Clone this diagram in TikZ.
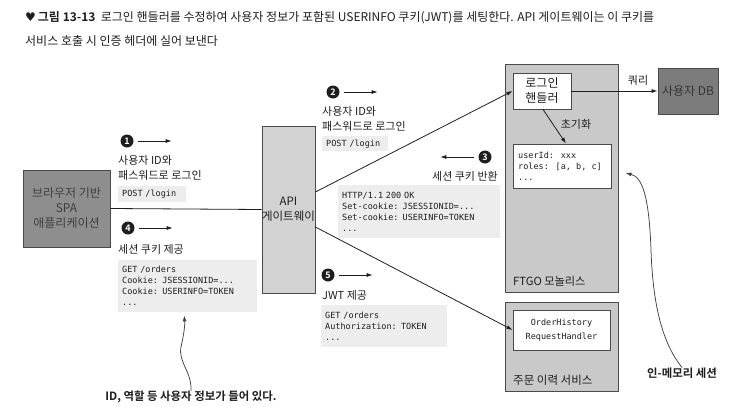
\documentclass[tikz,border=0pt]{standalone}
\usepackage{fontspec}
\setmainfont{Noto Sans CJK KR}[BoldFont={Noto Sans CJK KR Bold}]
\newfontfamily\monof{DejaVu Sans Mono}
\newfontfamily\symf{DejaVu Sans}
\usetikzlibrary{arrows.meta}
\definecolor{spagray}{HTML}{8E8E8E}
\definecolor{dbgray}{HTML}{7C7C7C}
\definecolor{lightbox}{HTML}{D2D2D2}
\definecolor{monobox}{HTML}{C9C9C9}
\definecolor{codebg}{HTML}{EDEDED}
\definecolor{edge}{HTML}{4A4A4A}
\definecolor{ink}{HTML}{1E1E1E}
\tikzset{
  box/.style={draw=edge, line width=0.9pt, inner sep=0pt, align=center, text=ink, font=\fontsize{12}{14}\selectfont},
  whitebox/.style={box, fill=white},
  arr/.style={-{Latex[length=6pt,width=4pt]}, draw=ink, line width=0.8pt},
  plain/.style={draw=ink, line width=0.8pt},
  numc/.style={circle, fill=ink, text=white, inner sep=0pt, minimum size=13pt, font=\bfseries\fontsize{9}{9}\selectfont},
  lbl/.style={inner sep=0pt, text=ink, font=\fontsize{11}{12}\selectfont},
  codebox/.style={fill=codebg, inner xsep=4pt, inner ysep=0pt, anchor=north west, align=left, text=ink, font=\monof\fontsize{8.5}{11}\selectfont},
  code/.style={inner sep=0pt, align=left, text=ink, font=\monof\fontsize{8.5}{11}\selectfont},
  note/.style={inner sep=0pt, text=ink, font=\bfseries\fontsize{11.4}{13}\selectfont},
  curvy/.style={-{Latex[length=6pt,width=4pt]}, draw=ink!85, line width=0.75pt}
}
\begin{document}
\begin{tikzpicture}[x=1pt,y=-1pt]
\useasboundingbox (0,0) rectangle (731,407);
% title
\node[anchor=west, inner sep=0pt, text=ink, font=\fontsize{12}{14}\selectfont] (t1) at (25,18)
  {{\symf ♥}\,\textbf{그림 13-13}\ \ 로그인 핸들러를 수정하여 사용자 정보가 포함된 USERINFO 쿠키(JWT)를 세팅한다. API 게이트웨이는 이 쿠키를};
\node[anchor=west, inner sep=0pt, text=ink, font=\fontsize{12}{14}\selectfont] (t2) at (25,41)
  {서비스 호출 시 인증 헤더에 실어 보낸다};

% main boxes
\node[box, fill=spagray, minimum width=87pt, minimum height=77pt, text=ink!85, font=\fontsize{12}{15}\selectfont] (spa) at (66.5,208.5) {브라우저 기반\\SPA\\애플리케이션};
\node[box, fill=lightbox, minimum width=51pt, minimum height=167pt, font=\fontsize{11.5}{15}\selectfont] (gw) at (288.5,209.5) {API\\게이트웨이};
\node[box, fill=monobox, minimum width=113pt, minimum height=228pt] (mono) at (561.5,178) {};
\node[box, fill=monobox, minimum width=113pt, minimum height=89pt] (svc) at (561.5,346.5) {};
\node[lbl, anchor=west, font=\fontsize{11.2}{12}\selectfont] (monolbl) at (513,281) {FTGO 모놀리스};
\node[lbl, anchor=west, font=\fontsize{11.5}{12}\selectfont] (svclbl) at (513,380) {주문 이력 서비스};
\node[whitebox, minimum width=58pt, minimum height=36pt, font=\fontsize{12}{15}\selectfont] (handler) at (542,91) {로그인\\핸들러};
\node[whitebox, minimum width=98pt, minimum height=44pt] (session) at (562,166) {};
\node[code, anchor=west] (sesstext) at (518,166) {userId: xxx\\roles: [a, b, c]\\...};
\node[whitebox, minimum width=97pt, minimum height=40pt, font=\monof\fontsize{8.5}{13.5}\selectfont] (ohrh) at (561.5,330) {OrderHistory\\RequestHandler};
\node[box, fill=dbgray, minimum width=60pt, minimum height=46pt, text=ink!90] (db) at (688,91) {사용자 DB};

% connectors
\draw[plain] (spa.east) -- (gw.west);
\draw[arr] ([yshift=17.5pt]gw.east) -- (handler.west);
\draw[arr] ([yshift=-17.5pt]gw.east) -- (ohrh.west);
\draw[arr] (handler.east) -- (db.west);
\draw[arr] ([xshift=1pt]handler.south) -- ([xshift=4pt]session.north);
\node[lbl] (query) at (638,80) {쿼리};
\node[lbl] (init) at (576,124) {초기화};

% step 1
\node[numc] (c1) at (127,141) {1};
\draw[arr] ([xshift=4pt]c1.east) -- ++(34,0);
\node[lbl, anchor=west] (l1a) at (118,160) {사용자 ID와};
\node[lbl, anchor=west] (l1b) at (118,175) {패스워드로 로그인};
\node[codebox, text width=60pt, minimum height=16pt] (post1) at (118,186) {POST /login};

% step 2
\node[numc] (c2) at (333,92) {2};
\draw[arr] ([xshift=4pt]c2.east) -- ++(34,0);
\node[lbl, anchor=west] (l2a) at (322,111) {사용자 ID와};
\node[lbl, anchor=west] (l2b) at (322,126) {패스워드로 로그인};
\node[codebox, text width=58pt, minimum height=15pt] (post2) at (322,136) {POST /login};

% step 3
\node[numc] (c3) at (485,157) {3};
\draw[arr] ([xshift=-4pt]c3.west) -- ++(-34,0);
\node[lbl, anchor=east] (l3) at (498,176) {세션 쿠키 반환};
\node[codebox, text width=154pt, minimum height=53pt] (http) at (338,185) {HTTP/1.1 200 OK\\Set-cookie: JSESSIONID=...\\Set-cookie: USERINFO=TOKEN\\...};

% step 4
\node[numc] (c4) at (128,228) {4};
\draw[arr] ([xshift=4pt]c4.east) -- ++(34,0);
\node[lbl, anchor=west] (l4) at (118,249) {세션 쿠키 제공};
\node[codebox, text width=131pt, minimum height=52pt] (get1) at (118,260) {GET /orders\\Cookie: JSESSIONID=...\\Cookie: USERINFO=TOKEN\\...};

% step 5
\node[numc] (c5) at (328,275) {5};
\draw[arr] ([xshift=4pt]c5.east) -- ++(34,0);
\node[lbl, anchor=west] (l5) at (322,295) {JWT 제공};
\node[codebox, text width=118pt, minimum height=42pt] (get2) at (321,305) {GET /orders\\Authorization: TOKEN\\...};

% notes
\node[note] (note1) at (191,397) {ID, 역할 등 사용자 정보가 들어 있다.};
\draw[curvy] (note1.north) .. controls (192,372) and (178,362) .. (181,347) .. controls (184,333) and (185,326) .. ([xshift=-3.5pt,yshift=-3pt]get1.south);
\node[note] (mem) at (682,373) {인-메모리 세션};
\draw[curvy] (mem.north) .. controls (664,345) and (653,310) .. (651,250) .. controls (649,195) and (642,177) .. ([xshift=7pt,yshift=5pt]mono.east);
\end{tikzpicture}
\end{document}
